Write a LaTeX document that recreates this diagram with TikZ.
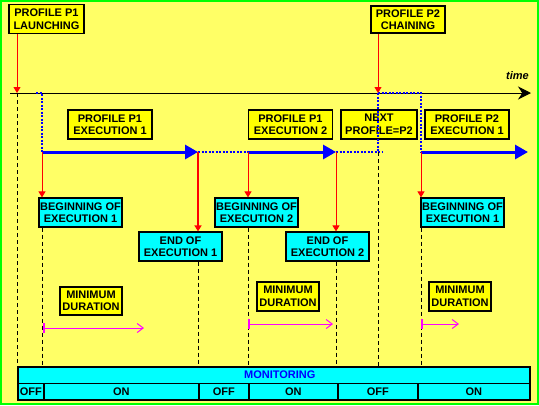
\documentclass[tikz,border=0pt]{standalone}
\usepackage{fontspec}
\setmainfont{Liberation Sans}
\usetikzlibrary{arrows.meta}
\definecolor{bgy}{HTML}{FFFF66}
\definecolor{byel}{HTML}{FFFF00}
\definecolor{bcyan}{HTML}{00FFFF}
\definecolor{bblue}{HTML}{0000FF}
\definecolor{bred}{HTML}{FF0000}
\definecolor{bmag}{HTML}{FF00FF}
\definecolor{bgreen}{HTML}{00FF00}
\tikzset{
  box/.style={draw=black, line width=1.2pt, font=\bfseries\fontsize{11}{12.5}\selectfont,
    align=center, inner sep=0pt, minimum height=29pt},
  ybox/.style={box, fill=byel},
  cbox/.style={box, fill=bcyan},
  cell/.style={draw=black, line width=1.5pt, fill=bcyan, inner sep=0pt, anchor=north west,
    font=\bfseries\fontsize{11}{12}\selectfont, minimum height=16.5pt},
  redarr/.style={draw=bred, line width=1pt, -{Triangle[length=6pt,width=7pt]}},
  bluearr/.style={draw=bblue, line width=3pt, -{Triangle[length=13pt,width=14pt]}},
  bdot/.style={draw=bblue, line width=1.3pt, dash pattern=on 2pt off 1.5pt},
  vdash/.style={draw=black, line width=1pt, dash pattern=on 4pt off 3pt},
  marr/.style={draw=bmag, line width=1pt, {Bar[width=10pt,line width=2pt]}-{Straight Barb[length=6pt,width=9pt]}},
}
\begin{document}
\begin{tikzpicture}[x=1pt,y=-1pt]
\useasboundingbox (0,0) rectangle (539,405);
\fill[bgy] (0,0) rectangle (539,405);
\draw[bgreen, line width=2pt] (1,1) rectangle (538,404);

% boxes
\node[ybox, minimum width=75pt] (launch) at (46.5,19) {PROFILE P1\\LAUNCHING};
\node[ybox, minimum width=74pt, minimum height=27pt] (chain) at (408,19.5) {PROFILE P2\\CHAINING};
\node[ybox, minimum width=84pt] (ex11) at (110,124.5) {PROFILE P1\\EXECUTION 1};
\node[ybox, minimum width=84pt] (ex12) at (290.5,124.5) {PROFILE P1\\EXECUTION 2};
\node[ybox, minimum width=76pt] (next) at (379,124.5) {NEXT\\PROFILE=P2};
\node[ybox, minimum width=84pt] (p2ex) at (467,124.5) {PROFILE P2\\EXECUTION 1};

\node[cbox, minimum width=83pt] (beg1) at (80.5,212.5) {BEGINNING OF\\EXECUTION 1};
\node[cbox, minimum width=83pt] (beg2) at (256.5,212.5) {BEGINNING OF\\EXECUTION 2};
\node[cbox, minimum width=83pt] (end1) at (180.5,246.5) {END OF\\EXECUTION 1};
\node[cbox, minimum width=83pt] (end2) at (327.5,246.5) {END OF\\EXECUTION 2};
\node[cbox, minimum width=83pt] (beg3) at (462.5,212.5) {BEGINNING OF\\EXECUTION 1};

\node[ybox, minimum width=62pt, minimum height=28pt] (min1) at (91,301) {MINIMUM\\DURATION};
\node[ybox, minimum width=62pt] (min2) at (288,296.5) {MINIMUM\\DURATION};
\node[ybox, minimum width=62pt] (min3) at (460,296.5) {MINIMUM\\DURATION};

% monitoring bar
\node[cell, minimum width=512pt, text=bblue] (mon) at (17,366) {\hspace*{12pt}MONITORING};
\node[cell, minimum width=26pt] (off1) at (17,382.5) {OFF};
\node[cell, minimum width=155pt] (on1) at (43,382.5) {ON};
\node[cell, minimum width=50pt] (off2) at (198,382.5) {OFF};
\node[cell, minimum width=89pt] (on2) at (248,382.5) {ON};
\node[cell, minimum width=80pt] (off3) at (337,382.5) {OFF};
\node[cell, minimum width=112pt] (on3) at (417,382.5) {ON};

% coordinates
\coordinate (tl0) at (10,93);
\coordinate (tl1) at (531,93);
\coordinate (t1) at (17,93);
\coordinate (t2) at (378,93);
\coordinate (t3) at (421,93);
\coordinate (tb) at (36,93);
\coordinate (b0) at (42,152);
\coordinate (b1) at (198,152);
\coordinate (b2) at (248,152);
\coordinate (b3) at (336,152);
\coordinate (b4) at (378,152);
\coordinate (b4e) at (383,152);
\coordinate (b5) at (421,152);
\coordinate (b6) at (528,152);

% time axis
\draw[line width=1pt, -{Stealth[length=13pt,width=13pt]}] (tl0) -- (tl1);
\node[font=\bfseries\itshape\fontsize{11}{12}\selectfont, inner sep=0pt] (time) at (517.5,75.5) {time};

% dotted blue
\draw[bdot] (tb) -| (b0);
\draw[bdot] (b1) -- (b2);
\draw[bdot] (b3) -- (b4e);
\draw[bdot] (t2) -- (b4);
\draw[bdot] (t2) -- (t3) -- (b5);

% dashed black
\draw[vdash] (t1) -- (t1 |- mon.north);
\draw[vdash] (beg1.south -| b0) -- (b0 |- mon.north);
\draw[vdash] (end1.south -| b1) -- (b1 |- mon.north);
\draw[vdash] (beg2.south -| b2) -- (b2 |- mon.north);
\draw[vdash] (end2.south -| b3) -- (b3 |- mon.north);
\draw[vdash] (b4) -- (b4 |- mon.north);
\draw[vdash] (beg3.south -| b5) -- (b5 |- mon.north);

% blue arrows
\draw[bluearr] (b0) -- (b1);
\draw[bluearr] (b2) -- (b3);
\draw[bluearr] (b5) -- (b6);

% red arrows
\draw[redarr] (launch.south -| t1) -- (t1);
\draw[redarr] (chain.south -| t2) -- (t2);
\draw[redarr] (b0) -- (b0 |- beg1.north);
\draw[redarr, line width=2pt] (b1) -- (b1 |- end1.north);
\draw[redarr] (b2) -- (b2 |- beg2.north);
\draw[redarr] (b3) -- (b3 |- end2.north);
\draw[redarr] (b5) -- (b5 |- beg3.north);

% minimum duration arrows
\coordinate (m1a) at (43,328);
\coordinate (m1b) at (144,328);
\coordinate (m2a) at (248,324);
\coordinate (m2b) at (333,324);
\coordinate (m3a) at (421,324);
\coordinate (m3b) at (459,324);
\draw[marr] (m1a) -- (m1b);
\draw[marr] (m2a) -- (m2b);
\draw[marr] (m3a) -- (m3b);
\end{tikzpicture}
\end{document}
